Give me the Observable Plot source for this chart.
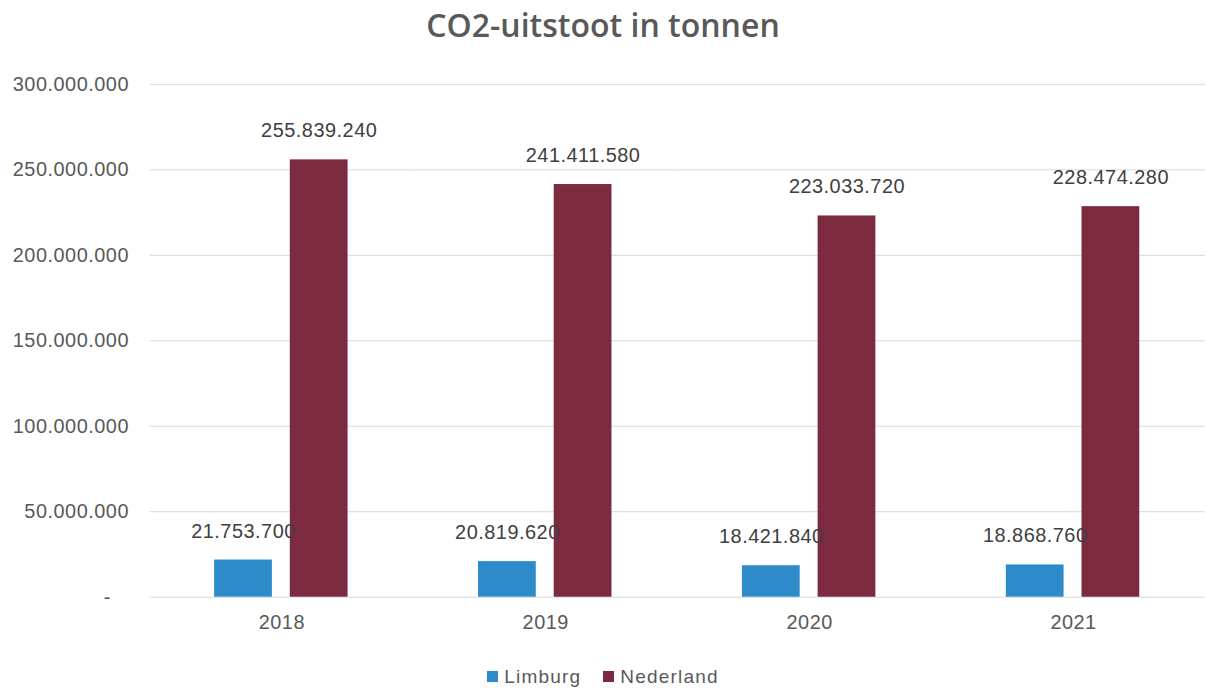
<!DOCTYPE html>
<html>
<head>
<meta charset="utf-8">
<script src="https://cdn.jsdelivr.net/npm/d3@7"></script>
<script src="https://cdn.jsdelivr.net/npm/@observablehq/plot@0.6"></script>
<style>
  html, body { margin: 0; padding: 0; background: #ffffff; }
  #wrap { width: 1206px; height: 688px; position: relative; overflow: hidden; }
  #title { height: 52px; line-height: 50px; text-align: center; font-family: "Open Sans", sans-serif; font-weight: 600; font-size: 32px; color: #595959; }
  #legend { height: 34px; display: flex; justify-content: center; align-items: center; gap: 22px; font-family: "Liberation Sans", sans-serif; font-size: 19px; letter-spacing: 1.2px; color: #595959; padding-top: 16px; box-sizing: border-box; }
  .item { display: flex; align-items: center; gap: 6px; }
  .sw { width: 11px; height: 11px; display: inline-block; }
  svg { display: block; }
  #chart svg text { letter-spacing: 0.5px; }
</style>
</head>
<body>
<div id="wrap">
  <div id="title">CO2-uitstoot in tonnen</div>
  <div id="chart"></div>
  <div id="legend"></div>
</div>
<script>
const years = ["2018", "2019", "2020", "2021"];
const series = ["Limburg", "Nederland"];
const limburg = [21753700, 20819620, 18421840, 18868760];
const nederland = [255839240, 241411580, 223033720, 228474280];
const yTicks = [0, 50000000, 100000000, 150000000, 200000000, 250000000, 300000000];
const colors = ["#2E8BCA", "#7B2A3F"];

const data = years.flatMap((yr, i) => [
  {year: yr, series: "Limburg", value: limburg[i]},
  {year: yr, series: "Nederland", value: nederland[i]}
]);

const nl = d3.formatLocale({decimal: ",", thousands: ".", grouping: [3], currency: ["€", ""]});
const fmt = nl.format(",");

const chart = Plot.plot({
  width: 1211,
  height: 602,
  marginLeft: 148,
  marginRight: 0,
  marginTop: 32,
  marginBottom: 55,
  style: {fontFamily: "Liberation Sans, sans-serif", fontSize: "20px", color: "#595959", background: "white"},
  fx: {domain: years, paddingInner: 0, paddingOuter: 0, label: null},
  x: {domain: series, axis: null, paddingInner: 0.2368, paddingOuter: 0.8586},
  y: {domain: [0, 300000000], label: null},
  color: {domain: series, range: colors},
  marks: [
    Plot.gridY(yTicks, {stroke: "#d9d9d9", strokeOpacity: 1, strokeWidth: 1}),
    Plot.axisY(yTicks, {tickSize: 0, tickPadding: 21, fill: "#595959", label: null,
      tickFormat: d => d === 0 ? "-\u00a0\u00a0\u00a0" : fmt(d)}),
    Plot.axisFx({anchor: "bottom", tickSize: 0, tickPadding: 18, fill: "#595959", label: null}),
    Plot.barY(data, {fx: "year", x: "series", y: "value", fill: "series"}),
    Plot.text(data, {fx: "year", x: "series", y: "value", text: d => fmt(d.value), dy: -29, fill: "#404040"})
  ]
});
document.getElementById("chart").appendChild(chart);

const legend = document.getElementById("legend");
series.forEach((s, i) => {
  const it = document.createElement("div");
  it.className = "item";
  const sw = document.createElement("span");
  sw.className = "sw";
  sw.style.background = colors[i];
  const tx = document.createElement("span");
  tx.textContent = s;
  it.appendChild(sw);
  it.appendChild(tx);
  legend.appendChild(it);
});
</script>
</body>
</html>
